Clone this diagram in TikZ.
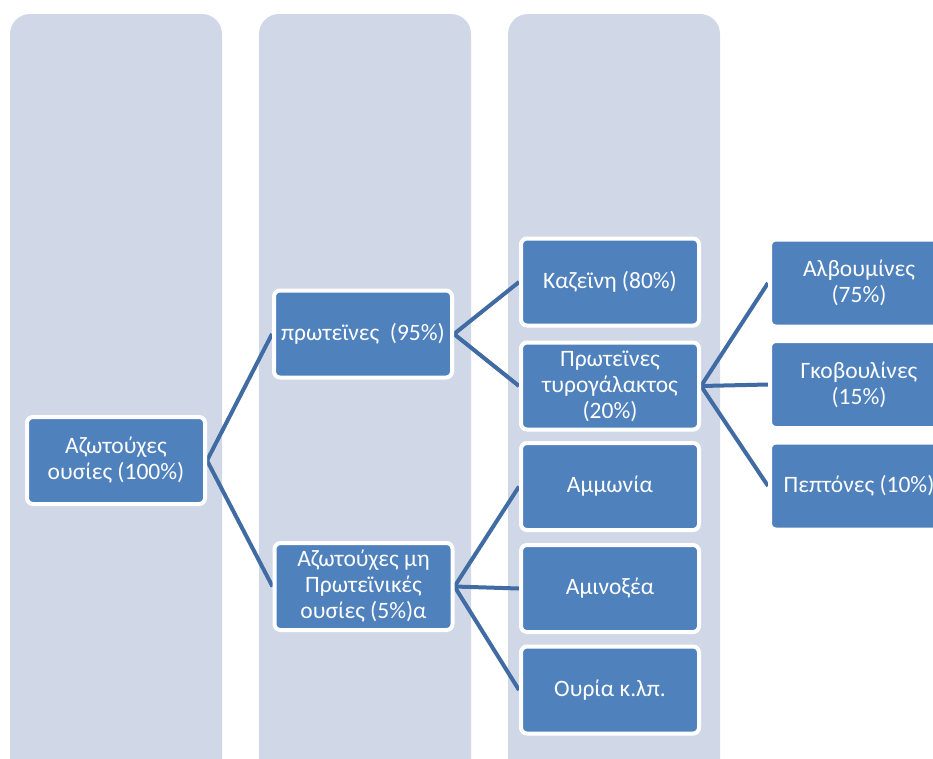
\documentclass[tikz,border=0pt]{standalone}
\usepackage{fontspec}
\setmainfont{Carlito}
\pgfdeclarelayer{bg}
\pgfdeclarelayer{mid}
\pgfsetlayers{bg,mid,main}
\definecolor{colbg}{HTML}{D0D8E8}
\definecolor{boxfill}{HTML}{4F81BD}
\definecolor{linkcol}{HTML}{416CA3}
\tikzset{
  stagebox/.style={draw=white, line width=4pt, fill=boxfill, rounded corners=6pt,
    minimum width=178pt, minimum height=87pt, inner sep=0pt, align=center,
    text=white, font=\fontsize{23.5pt}{26pt}\selectfont},
  link/.style={draw=linkcol, line width=4pt},
  column/.style={fill=colbg, rounded corners=20pt}
}
\begin{document}
\begin{tikzpicture}[x=1pt,y=-1pt]
\useasboundingbox (0,0) rectangle (933,758);
\begin{pgfonlayer}{bg}
  \fill[white] (0,0) rectangle (933,758);
  \path[column] (10,800) -- (10,14) -- (222,14) -- (222,800) -- cycle;
  \path[column] (259,800) -- (259,14) -- (471,14) -- (471,800) -- cycle;
  \path[column] (508,800) -- (508,14) -- (720,14) -- (720,800) -- cycle;
\end{pgfonlayer}
\node[stagebox] (root) at (116,460.5) {Αζωτούχες\\ουσίες (100\%)};
\node[stagebox] (prot) at (363,334) {πρωτεϊνες\ \ (95\%)};
\node[stagebox] (nonp) at (363.5,586.5) {Αζωτούχες μη\\Πρωτεϊνικές\\ουσίες (5\%)α};
\node[stagebox] (kaz) at (610,282) {Καζεϊνη (80\%)};
\node[stagebox] (tyr) at (610,386) {Πρωτεϊνες\\τυρογάλακτος\\(20\%)};
\node[stagebox] (amm) at (610,486.5) {Αμμωνία};
\node[stagebox] (amin) at (610,588.5) {Αμινοξέα};
\node[stagebox] (our) at (610,690) {Ουρία κ.λπ.};
\node[stagebox] (alb) at (859,283) {Αλβουμίνες\\(75\%)};
\node[stagebox] (gko) at (859,384.5) {Γκοβουλίνες\\(15\%)};
\node[stagebox] (pep) at (859,486) {Πεπτόνες (10\%)};
\begin{pgfonlayer}{mid}
  \draw[link] (root.east) -- (prot.west);
  \draw[link] (root.east) -- (nonp.west);
  \draw[link] (prot.east) -- (kaz.west);
  \draw[link] (prot.east) -- (tyr.west);
  \draw[link] (nonp.east) -- (amm.west);
  \draw[link] (nonp.east) -- (amin.west);
  \draw[link] (nonp.east) -- (our.west);
  \draw[link] (tyr.east) -- (alb.west);
  \draw[link] (tyr.east) -- (gko.west);
  \draw[link] (tyr.east) -- (pep.west);
\end{pgfonlayer}
\end{tikzpicture}
\end{document}
